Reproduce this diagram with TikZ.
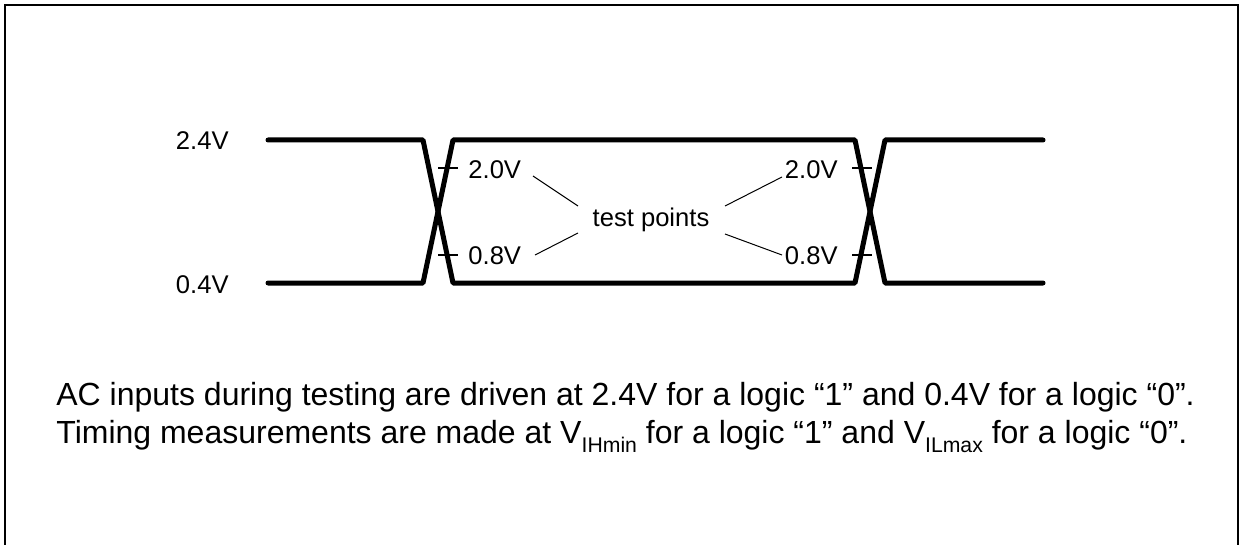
\documentclass[tikz,border=0pt]{standalone}
\usepackage{fontspec}
\setmainfont{Liberation Sans}
\usetikzlibrary{positioning}

\newcommand{\vsub}[1]{\raisebox{-4.5pt}{\fontsize{10.6}{12}\selectfont #1}}

\begin{document}
\begin{tikzpicture}[x=0.5pt,y=-0.5pt,
    lbl/.style={inner sep=0pt,font=\fontsize{12.8}{15}\selectfont},
    note/.style={inner sep=0pt,anchor=base west,font=\fontsize{16}{19}\selectfont},
    signal/.style={line width=2.5pt,line cap=round,line join=round},
    tick/.style={line width=0.6pt},
    leader/.style={line width=0.5pt}]
	\useasboundingbox (0,0) rectangle (1240,545);
	\draw[line width=1pt] (5,545) -- (5,5) -- (1238,5) -- (1238,545);

	% levels
	\node[lbl,anchor=base east] (hi) at (229,150) {2.4V};
	\node[lbl,anchor=base east] (lo) at (229,293) {0.4V};

	% signal
	\draw[signal] (268,140) -- (423,140) -- (453,283) -- (855,283) -- (885,140) -- (1043,140);
	\draw[signal] (268,283) -- (423,283) -- (453,140) -- (855,140) -- (885,283) -- (1043,283);

	% test point marks
	\draw[tick] (438,168) -- (458,168);
	\draw[tick] (438,255) -- (458,255);
	\draw[tick] (852,168) -- (872,168);
	\draw[tick] (852,255) -- (872,255);

	\node[lbl,anchor=base west] (vihL) at (468,178) {2.0V};
	\node[lbl,anchor=base west] (vilL) at (468,264) {0.8V};
	\node[lbl,anchor=base east] (vihR) at (838,178) {2.0V};
	\node[lbl,anchor=base east] (vilR) at (838,264) {0.8V};
	\node[lbl,anchor=base] (tp) at (651,227) {test points};

	\coordinate (a1) at (533,176); \coordinate (a2) at (578,206);
	\coordinate (b1) at (535,255); \coordinate (b2) at (578,233);
	\coordinate (c1) at (782,177); \coordinate (c2) at (725,206);
	\coordinate (d1) at (782,255); \coordinate (d2) at (725,234);
	\draw[leader] (a1) -- (a2);
	\draw[leader] (b1) -- (b2);
	\draw[leader] (c1) -- (c2);
	\draw[leader] (d1) -- (d2);

	% note
	\node[note] (note1) at (56,405)
		{AC inputs during testing are driven at 2.4V for a logic “1” and 0.4V for a logic “0”.};
	\node[note] (note2) at (56,443)
		{Timing measurements are made at V\vsub{IHmin} for a logic “1” and V\vsub{ILmax} for a logic “0”.};
\end{tikzpicture}
\end{document}
